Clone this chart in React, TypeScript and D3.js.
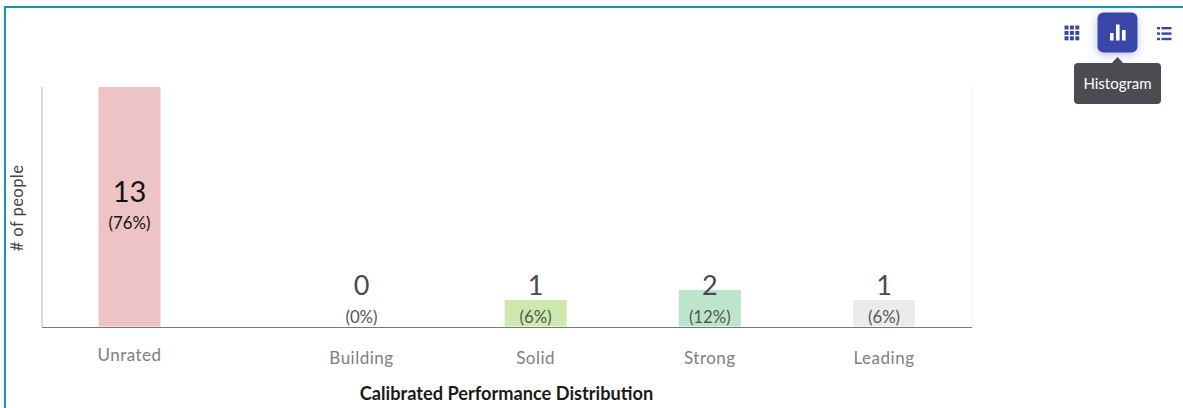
import { useEffect, useRef } from "react";
import * as d3 from "d3";

const categories = ["Unrated", "Building", "Solid", "Strong", "Leading"];
const counts = [13, 0, 1, 2, 1];
const percents = ["(76%)", "(0%)", "(6%)", "(12%)", "(6%)"];
const barColors = ["#eec3c5", "#ffffff", "#cde9ad", "#bde5cb", "#ebebeb"];
// the chart leaves a wider gap after the first category
const slots = [0, 1.332, 2.332, 3.332, 4.332];
const countStops = [0, 1, 2, 13];
const views = ["grid", "histogram", "list"];

const FONT = "Lato, 'Open Sans', sans-serif";
const W = 1183;
const H = 408;

const App = () => {
  const svgRef = useRef<SVGSVGElement>(null);

  useEffect(() => {
    document.body.style.margin = "0";
    const svg = d3.select(svgRef.current);
    svg.selectAll("*").remove();
    svg.style("font-family", FONT);

    // outer card border, runs off the right and bottom of the crop
    svg
      .append("rect")
      .attr("x", 5)
      .attr("y", 7)
      .attr("width", W + 20)
      .attr("height", H + 20)
      .attr("fill", "#fff")
      .attr("stroke", "#1496b6")
      .attr("stroke-width", 2);

    const x = d3.scaleLinear().domain([0, 4.332]).range([129.5, 884]);
    // bars are not to scale in the source, so the scale is piecewise
    const y = d3.scaleLinear().domain(countStops).range([327, 300, 290, 87]);
    const barWidth = 62;

    // axis lines
    svg
      .append("line")
      .attr("x1", 42)
      .attr("x2", 42)
      .attr("y1", 87)
      .attr("y2", 327)
      .attr("stroke", "#b5b5b5")
      .attr("stroke-width", 1);
    svg
      .append("line")
      .attr("x1", 972)
      .attr("x2", 972)
      .attr("y1", 87)
      .attr("y2", 327)
      .attr("stroke", "#efefef")
      .attr("stroke-width", 1);

    const rows = categories.map((name, i) => ({
      name,
      count: counts[i],
      pct: percents[i],
      color: barColors[i],
      cx: x(slots[i]),
    }));

    svg
      .selectAll(".bar")
      .data(rows.filter((d) => d.count > 0))
      .enter()
      .append("rect")
      .attr("class", "bar")
      .attr("x", (d) => d.cx - barWidth / 2)
      .attr("y", (d) => y(d.count))
      .attr("width", barWidth)
      .attr("height", (d) => y(0) - y(d.count) - 0.5)
      .attr("fill", (d) => d.color);

    svg
      .append("line")
      .attr("x1", 42)
      .attr("x2", 972)
      .attr("y1", 327.5)
      .attr("y2", 327.5)
      .attr("stroke", "#777")
      .attr("stroke-width", 1);

    // count labels: the tall bar has its labels mid bar, the rest sit at the base
    svg
      .selectAll(".count")
      .data(rows)
      .enter()
      .append("text")
      .attr("class", "count")
      .attr("x", (d) => d.cx)
      .attr("y", (d) => (d.count > 2 ? 201.5 : 295))
      .attr("text-anchor", "middle")
      .attr("font-size", (d) => (d.count > 2 ? 29 : 27))
      .attr("fill", (d) => (d.count > 2 ? "#111" : "#4a4a4a"))
      .text((d) => d.count);

    svg
      .selectAll(".pct")
      .data(rows)
      .enter()
      .append("text")
      .attr("class", "pct")
      .attr("x", (d) => d.cx)
      .attr("y", (d) => (d.count > 2 ? 229 : 323))
      .attr("text-anchor", "middle")
      .attr("font-size", 16.8)
      .attr("fill", (d) => (d.count > 2 ? "#111" : "#555"))
      .text((d) => d.pct);

    svg
      .selectAll(".cat")
      .data(rows)
      .enter()
      .append("text")
      .attr("class", "cat")
      .attr("x", (d) => d.cx)
      .attr("y", (d) => (d.count > 2 ? 361 : 364))
      .attr("text-anchor", "middle")
      .attr("font-size", 17)
      .attr("letter-spacing", 0.5)
      .attr("fill", "#808080")
      .text((d) => d.name);

    svg
      .append("text")
      .attr("x", 506.5)
      .attr("y", 400)
      .attr("text-anchor", "middle")
      .attr("font-size", 18.2)
      .attr("font-weight", 700)
      .attr("fill", "#1a1a1a")
      .text("Calibrated Performance Distribution");

    svg
      .append("text")
      .attr("transform", "translate(23,208) rotate(-90)")
      .attr("text-anchor", "middle")
      .attr("font-size", 16.6)
      .attr("letter-spacing", 0.4)
      .attr("fill", "#444")
      .text("# of people");

    // view switcher
    const defs = svg.append("defs");
    const blur = defs
      .append("filter")
      .attr("id", "glow")
      .attr("x", "-50%")
      .attr("y", "-50%")
      .attr("width", "200%")
      .attr("height", "200%");
    blur.append("feGaussianBlur").attr("stdDeviation", 5);

    const indigo = "#3a46a8";
    svg
      .append("rect")
      .attr("x", 1097)
      .attr("y", 15)
      .attr("width", 40)
      .attr("height", 40)
      .attr("rx", 6)
      .attr("fill", "#8f97e0")
      .attr("opacity", 0.6)
      .attr("filter", "url(#glow)");
    svg
      .append("rect")
      .attr("x", 1097.5)
      .attr("y", 12.5)
      .attr("width", 40)
      .attr("height", 40)
      .attr("rx", 6)
      .attr("fill", indigo);

    views.forEach((view) => {
      if (view === "grid") {
        d3.range(9).forEach((i) => {
          svg
            .append("rect")
            .attr("x", 1064.5 + (i % 3) * 5.4)
            .attr("y", 25.5 + Math.floor(i / 3) * 5.4)
            .attr("width", 4)
            .attr("height", 4)
            .attr("fill", indigo);
        });
      } else if (view === "histogram") {
        [
          [1110, 7.5, 33],
          [1116, 16, 24.5],
          [1122, 10.5, 30],
        ].forEach(([bx, bh, by]) => {
          svg
            .append("rect")
            .attr("x", bx)
            .attr("y", by)
            .attr("width", 3.6)
            .attr("height", bh)
            .attr("fill", "#fff");
        });
      } else {
        d3.range(3).forEach((i) => {
          svg
            .append("rect")
            .attr("x", 1157)
            .attr("y", 27 + i * 5.4)
            .attr("width", 3)
            .attr("height", 2.4)
            .attr("fill", indigo);
          svg
            .append("rect")
            .attr("x", 1161.5)
            .attr("y", 27 + i * 5.4)
            .attr("width", 10)
            .attr("height", 2.4)
            .attr("fill", indigo);
        });
      }
    });

    // tooltip
    svg
      .append("path")
      .attr("d", d3.line()([[1111, 64], [1117.5, 57], [1124, 64]]) ?? "")
      .attr("fill", "#4b4b52");
    svg
      .append("rect")
      .attr("x", 1074)
      .attr("y", 63)
      .attr("width", 87)
      .attr("height", 41)
      .attr("rx", 4)
      .attr("fill", "#4b4b52");
    svg
      .append("text")
      .attr("x", 1117.5)
      .attr("y", 89)
      .attr("text-anchor", "middle")
      .attr("font-size", 15)
      .attr("fill", "#fff")
      .text("Histogram");
  }, []);

  return (
    <svg
      ref={svgRef}
      width={W}
      height={H}
      style={{ display: "block" }}
    ></svg>
  );
};

export default App;
